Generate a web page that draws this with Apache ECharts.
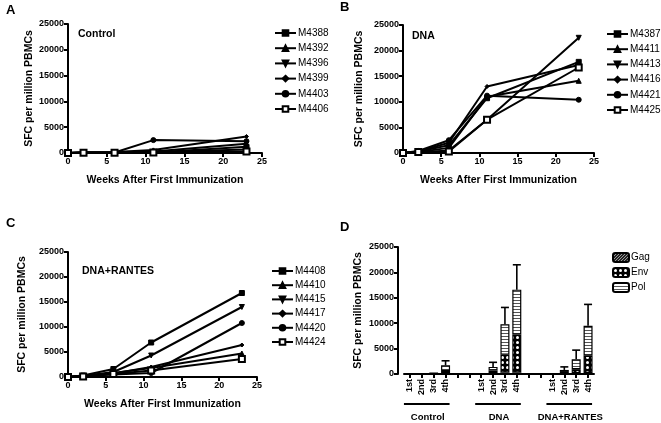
<!DOCTYPE html>
<html>
<head>
<meta charset="utf-8">
<script src="https://cdn.jsdelivr.net/npm/echarts@6/dist/echarts.min.js"></script>
<style>
  html, body { margin: 0; padding: 0; background: #fff; }
  #main { width: 661px; height: 423px; }
</style>
</head>
<body>
<div id="main"></div>
<script>
// weeks after first immunization
const weeks = [0, 2, 6, 11, 23];

// A - control
const namesA = ['M4388', 'M4392', 'M4396', 'M4399', 'M4403', 'M4406'];
const valuesA = [
  [0, 100, 50, 100, 1200],
  [0, 50, 100, 300, 1800],
  [0, 50, 50, 200, 700],
  [0, 100, 200, 600, 3200],
  [0, 150, 100, 2500, 2300],
  [0, 50, 50, 100, 300]
];

// B - DNA
const namesB = ['M4387', 'M4411', 'M4413', 'M4416', 'M4421', 'M4425'];
const valuesB = [
  [0, 300, 1500, 10700, 17800],
  [0, 200, 1000, 11000, 14100],
  [0, 100, 500, 6500, 22500],
  [0, 300, 2000, 13000, 17200],
  [0, 400, 2500, 11200, 10400],
  [0, 200, 300, 6500, 16700]
];

// C - DNA+RANTES
const namesC = ['M4408', 'M4410', 'M4415', 'M4417', 'M4420', 'M4424'];
const valuesC = [
  [0, 300, 1600, 6900, 16800],
  [0, 200, 800, 1800, 4700],
  [0, 200, 1000, 4300, 14000],
  [0, 300, 700, 2000, 6400],
  [0, 200, 500, 800, 10800],
  [0, 100, 600, 1300, 3600]
];

// same marker order in every panel
const markers = ['rect', 'triangle', 'path://M0,0 L10,0 L5,10 Z', 'diamond', 'circle', 'emptyRect'];
const markerSizes = [5, 5, 5, 4, 5, 6];

// D - stacked bars, blanks ('-') separate the groups
const doseLabels = ['1st', '2nd', '3rd', '4th', '', '', '1st', '2nd', '3rd', '4th', '', '', '1st', '2nd', '3rd', '4th'];
const gag = [20, 30, 50, 100, '-', '-', 50, 200, 300, 300, '-', '-', 50, 100, 150, 200];
const env = [20, 30, 100, 500, '-', '-', 30, 500, 3500, 7500, '-', '-', 30, 300, 800, 3400];
const pol = [10, 20, 50, 1100, '-', '-', 20, 700, 6000, 8800, '-', '-', 20, 400, 1950, 5900];
const errUp = [null, null, null, 900, null, null, null, 900, 3300, 4900, null, null, null, 600, 1800, 4200];
const groups = [
  { name: 'Control', from: 0, to: 3 },
  { name: 'DNA', from: 6, to: 9 },
  { name: 'DNA+RANTES', from: 12, to: 15 }
];

const FONT = 'Liberation Sans, Arial, sans-serif';

function makePattern(kind) {
  const c = document.createElement('canvas');
  const ctx = c.getContext('2d');
  if (kind === 'gag') {
    c.width = 3; c.height = 3;
    ctx.fillStyle = '#222'; ctx.fillRect(0, 0, 3, 3);
    ctx.fillStyle = '#999'; ctx.fillRect(0, 0, 1, 1); ctx.fillRect(1, 2, 1, 1); ctx.fillRect(2, 1, 1, 1);
  } else if (kind === 'env') {
    c.width = 5; c.height = 5;
    ctx.fillStyle = '#000'; ctx.fillRect(0, 0, 5, 5);
    ctx.fillStyle = '#fff';
    ctx.beginPath(); ctx.arc(2.5, 2.5, 1.5, 0, Math.PI * 2); ctx.fill();
  } else {
    c.width = 2; c.height = 3;
    ctx.fillStyle = '#fff'; ctx.fillRect(0, 0, 2, 3);
    ctx.fillStyle = '#555'; ctx.fillRect(0, 0, 2, 1);
  }
  return { image: c, repeat: 'repeat' };
}

const grids = [
  { left: 68, top: 24, width: 194, height: 129 },
  { left: 403, top: 25, width: 191, height: 128 },
  { left: 68, top: 252, width: 189, height: 125 },
  { left: 404, top: 247, width: 190, height: 127 }
];

const axisLine = { show: true, lineStyle: { color: '#000', width: 2 } };
const axisTick = { show: true, length: 4, lineStyle: { color: '#000', width: 2 } };
const tickLabel = { color: '#000', fontSize: 9, fontWeight: 'bold', fontFamily: FONT };
const nameText = { color: '#000', fontSize: 10.5, fontWeight: 'bold', fontFamily: FONT };
const plain = v => String(v);

function weekAxis(gi) {
  return {
    gridIndex: gi, type: 'value', min: 0, max: 25, interval: 5,
    name: 'Weeks After First Immunization', nameLocation: 'middle', nameGap: 22,
    nameTextStyle: nameText,
    axisLine: axisLine, axisTick: axisTick, splitLine: { show: false },
    axisLabel: Object.assign({ margin: 4, formatter: plain }, tickLabel)
  };
}
function sfcAxis(gi, gap, offset) {
  return {
    gridIndex: gi, type: 'value', min: 0, max: 25000, interval: 5000,
    offset: offset || 0,
    name: 'SFC per million PBMCs', nameLocation: 'middle', nameGap: gap,
    nameTextStyle: nameText,
    axisLine: axisLine, axisTick: axisTick, splitLine: { show: false },
    axisLabel: Object.assign({ margin: 4, formatter: plain }, tickLabel)
  };
}

function lineSeries(names, values, gi) {
  return names.map((n, k) => ({
    name: n, type: 'line', xAxisIndex: gi, yAxisIndex: gi,
    data: weeks.map((w, i) => [w, values[k][i]]),
    symbol: markers[k], symbolSize: markerSizes[k],
    lineStyle: { color: '#000', width: 2 },
    itemStyle: { color: '#000', borderColor: '#000', borderWidth: 1 },
    animation: false
  }));
}

function lineLegend(names, left, top, gap) {
  return {
    data: names, orient: 'vertical', left: left, top: top, padding: 0,
    itemWidth: 21, itemHeight: 7, itemGap: gap,
    textStyle: { color: '#000', fontSize: 10, fontFamily: FONT, padding: [0, 0, 0, -3] },
    selectedMode: false
  };
}

const totals = gag.map((g, i) => g === '-' ? '-' : g + env[i] + pol[i]);
const errData = [];
errUp.forEach((e, i) => { if (e != null) errData.push([i, totals[i], e]); });

const barBase = {
  type: 'bar', stack: 'd', xAxisIndex: 3, yAxisIndex: 3, barWidth: 9,
  animation: false
};

const option = {
  animation: false,
  backgroundColor: '#fff',
  title: [
    { text: 'A', left: 6, top: 4 },
    { text: 'B', left: 340, top: 1 },
    { text: 'C', left: 6, top: 217 },
    { text: 'D', left: 340, top: 221 },
    { text: 'Control', left: 78, top: 29, sub: true },
    { text: 'DNA', left: 412, top: 31, sub: true },
    { text: 'DNA+RANTES', left: 82, top: 266, sub: true }
  ].map(t => ({
    text: t.text, left: t.left, top: t.top, padding: 0,
    textStyle: { color: '#000', fontFamily: FONT, fontWeight: 'bold', fontSize: t.sub ? 10.5 : 13 }
  })),
  grid: grids,
  xAxis: [
    weekAxis(0), weekAxis(1), weekAxis(2),
    {
      gridIndex: 3, type: 'category', data: doseLabels,
      axisLine: axisLine,
      axisTick: { show: true, length: 4, alignWithLabel: true, interval: 0, lineStyle: { color: '#000', width: 2 } },
      axisLabel: Object.assign({ rotate: 90, interval: 0, margin: 5 }, tickLabel)
    }
  ],
  yAxis: [sfcAxis(0, 33), sfcAxis(1, 38), sfcAxis(2, 40), sfcAxis(3, 34, 6)],
  legend: [
    lineLegend(namesA, 274, 28, 5.2),
    lineLegend(namesB, 606, 29, 5.2),
    lineLegend(namesC, 271, 266, 4.2),
    {
      data: ['Gag', 'Env', 'Pol'], orient: 'vertical', left: 612, top: 252, padding: 0,
      itemWidth: 16, itemHeight: 9, itemGap: 4,
      textStyle: { color: '#000', fontSize: 10, fontFamily: FONT, padding: [0, 0, 0, -3] },
      selectedMode: false
    }
  ],
  series: [].concat(
    lineSeries(namesA, valuesA, 0),
    lineSeries(namesB, valuesB, 1),
    lineSeries(namesC, valuesC, 2),
    [
      Object.assign({ name: 'Gag', data: gag, itemStyle: { color: makePattern('gag'), borderColor: '#000', borderWidth: 1.2 } }, barBase),
      Object.assign({ name: 'Env', data: env, itemStyle: { color: makePattern('env'), borderColor: '#000', borderWidth: 1.2 } }, barBase),
      Object.assign({ name: 'Pol', data: pol, itemStyle: { color: makePattern('pol'), borderColor: '#000', borderWidth: 1.2 } }, barBase),
      {
        type: 'custom', xAxisIndex: 3, yAxisIndex: 3, data: errData, z: 1,
        encode: { x: 0, y: 1 },
        renderItem: function (params, api) {
          const x = api.value(0), t = api.value(1), e = api.value(2);
          const p0 = api.coord([x, t]);
          const p1 = api.coord([x, t + e]);
          const half = 4;
          const st = { stroke: '#000', lineWidth: 1.6 };
          return {
            type: 'group',
            children: [
              { type: 'line', shape: { x1: p0[0], y1: p0[1], x2: p1[0], y2: p1[1] }, style: st },
              { type: 'line', shape: { x1: p1[0] - half, y1: p1[1], x2: p1[0] + half, y2: p1[1] }, style: st }
            ]
          };
        },
        animation: false
      }
    ]
  )
};

const chart = echarts.init(document.getElementById('main'));
chart.setOption(option);

// group underlines and names under panel D
const gfx = [];
groups.forEach(g => {
  const a = chart.convertToPixel({ xAxisIndex: 3, yAxisIndex: 3 }, [g.from, 0]);
  const b = chart.convertToPixel({ xAxisIndex: 3, yAxisIndex: 3 }, [g.to, 0]);
  gfx.push({
    type: 'line', shape: { x1: a[0] - 6, y1: a[1] + 30, x2: b[0] + 4, y2: a[1] + 30 },
    style: { stroke: '#000', lineWidth: 2 }
  });
  gfx.push({
    type: 'text', x: (a[0] + b[0]) / 2, y: a[1] + 43,
    style: { text: g.name, fill: '#000', font: 'bold 9.5px ' + FONT, textAlign: 'center', textVerticalAlign: 'middle' }
  });
});
chart.setOption({ graphic: gfx });
</script>
</body>
</html>
